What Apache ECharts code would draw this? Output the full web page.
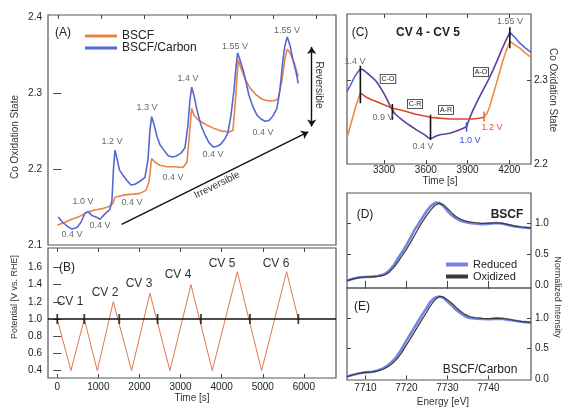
<!DOCTYPE html>
<html>
<head>
<meta charset="utf-8">
<script src="https://cdn.jsdelivr.net/npm/echarts@6/dist/echarts.min.js"></script>
<style>
  html, body { margin: 0; padding: 0; background: #fff; }
  #chart { width: 563px; height: 407px; }
</style>
</head>
<body>
<div id="chart"></div>
<script>
// ---- panel A: Co oxidation state vs time [s]
const aBscf = [[0,2.126],[187,2.130],[358,2.134],[552,2.138],[723,2.143],[917,2.146],[1112,2.148],[1282,2.151],[1355,2.155],[1404,2.163],[1477,2.164],[1647,2.166],[1842,2.167],[2012,2.168],[2158,2.172],[2231,2.183],[2297,2.214],[2380,2.209],[2499,2.205],[2669,2.203],[2864,2.203],[3058,2.202],[3156,2.209],[3204,2.238],[3270,2.280],[3326,2.271],[3423,2.265],[3545,2.261],[3667,2.257],[3837,2.253],[4007,2.250],[4178,2.249],[4275,2.251],[4336,2.291],[4404,2.344],[4470,2.333],[4567,2.319],[4689,2.307],[4835,2.298],[4981,2.292],[5127,2.290],[5273,2.290],[5370,2.292],[5467,2.317],[5540,2.346],[5596,2.358],[5662,2.353],[5759,2.341],[5864,2.322]];
const aCarbon = [[24,2.137],[114,2.131],[236,2.125],[358,2.121],[479,2.123],[577,2.130],[674,2.142],[747,2.144],[844,2.139],[942,2.137],[1039,2.134],[1161,2.141],[1282,2.147],[1331,2.159],[1367,2.199],[1404,2.225],[1453,2.214],[1513,2.199],[1599,2.192],[1696,2.185],[1793,2.179],[1891,2.180],[2012,2.184],[2134,2.189],[2207,2.212],[2255,2.251],[2297,2.269],[2353,2.259],[2426,2.243],[2499,2.232],[2596,2.225],[2693,2.218],[2791,2.216],[2888,2.217],[3010,2.221],[3107,2.228],[3180,2.258],[3229,2.291],[3270,2.308],[3326,2.297],[3399,2.278],[3496,2.258],[3594,2.245],[3691,2.235],[3796,2.229],[3886,2.230],[3983,2.233],[4080,2.240],[4153,2.248],[4227,2.271],[4300,2.304],[4350,2.335],[4389,2.353],[4445,2.344],[4526,2.330],[4591,2.315],[4665,2.297],[4762,2.282],[4859,2.271],[4956,2.266],[5053,2.263],[5151,2.264],[5248,2.270],[5345,2.280],[5418,2.304],[5491,2.344],[5540,2.363],[5596,2.374],[5662,2.363],[5735,2.344],[5808,2.328],[5864,2.313]];
const aVoltLabels = ['0.4 V','1.0 V','0.4 V','1.2 V','0.4 V','1.3 V','0.4 V','1.4 V','0.4 V','1.55 V','0.4 V','1.55 V'];
const aYTicks = [2.1, 2.2, 2.3, 2.4];
const aTopTicks = [24, 1080, 2117, 3163, 4202, 5255, 6311];

// ---- panel B: potential program
const bPotential = [[0,1.0],[333,0.4],[658,1.0],[974,0.4],[1363,1.2],[1809,0.4],[2255,1.3],[2742,0.4],[3253,1.4],[3772,0.4],[4380,1.55],[4972,0.4],[5581,1.55],[5865,1.0]];
const bCrossings = [0, 658, 1509, 2442, 3496, 4689, 5865];
const bCvLabels = ['CV 1','CV 2','CV 3','CV 4','CV 5','CV 6'];
const bXTicks = [0, 1000, 2000, 3000, 4000, 5000, 6000];
const bYTicks = [0.4, 0.6, 0.8, 1.0, 1.2, 1.4, 1.6];

// ---- panel C: CV 4 - CV 5 detail
const cCarbonPre = [[3034,2.287],[3060,2.295],[3090,2.305],[3115,2.311],[3130,2.314]];
const cCarbonCv = [[3130,2.314],[3150,2.313],[3173,2.310],[3200,2.306],[3221,2.303],[3245,2.299],[3269,2.293],[3295,2.286],[3317,2.279],[3340,2.271],[3360,2.265],[3380,2.260],[3401,2.257],[3430,2.253],[3461,2.249],[3497,2.245],[3533,2.241],[3563,2.238],[3593,2.235],[3615,2.232],[3634,2.230],[3655,2.232],[3680,2.234],[3701,2.235],[3740,2.236],[3773,2.237],[3810,2.239],[3844,2.241],[3870,2.243],[3893,2.245],[3915,2.255],[3940,2.265],[3975,2.277],[4012,2.289],[4050,2.301],[4084,2.313],[4115,2.325],[4145,2.337],[4175,2.348],[4204,2.358]];
const cCarbonPost = [[4204,2.358],[4240,2.352],[4276,2.345],[4310,2.340],[4356,2.334]];
const cBscfPre = [[3034,2.231],[3055,2.244],[3077,2.257],[3095,2.268],[3113,2.277],[3130,2.285]];
const cBscfCv = [[3130,2.285],[3150,2.283],[3173,2.280],[3210,2.277],[3245,2.275],[3300,2.271],[3360,2.267],[3410,2.265],[3461,2.263],[3520,2.260],[3581,2.258],[3634,2.256],[3701,2.255],[3770,2.254],[3844,2.254],[3900,2.254],[3940,2.254],[3980,2.255],[4019,2.256]];
const cBscfPost = [[4019,2.256],[4040,2.261],[4060,2.269],[4085,2.284],[4108,2.297],[4132,2.311],[4156,2.325],[4180,2.337],[4204,2.347],[4240,2.343],[4276,2.339],[4310,2.334],[4356,2.328]];
const cMarkTimes = [3130, 3360, 3634, 3893, 4019, 4204];
const cMarkLow = [2.273, 2.253, 2.229, 2.239, 2.251, 2.339];
const cMarkHigh = [2.318, 2.272, 2.259, 2.250, 2.263, 2.364];
const cXTicks = [3300, 3600, 3900, 4200];
const cYTicks = [2.2, 2.3];

// ---- panels D/E: XANES spectra
const dReduced = [[7705.5,0.07],[7707,0.10],[7708.6,0.125],[7710,0.13],[7711.8,0.135],[7713,0.145],[7714.3,0.165],[7715.2,0.2],[7716,0.25],[7717,0.33],[7718,0.44],[7719,0.54],[7720,0.65],[7721,0.77],[7722,0.9],[7723,1.0],[7724,1.11],[7725,1.21],[7726,1.29],[7727,1.34],[7728,1.34],[7729,1.29],[7730,1.21],[7731,1.14],[7732,1.09],[7733,1.055],[7734,1.03],[7735.4,1.01],[7737,1.0],[7738.5,0.99],[7740.3,1.0],[7742,1.01],[7743.5,1.0],[7745,0.975],[7746.5,0.955],[7748,0.94],[7750.4,0.925]];
const dOxidized = [[7705.5,0.07],[7707,0.10],[7708.6,0.12],[7710,0.13],[7711.8,0.133],[7713,0.14],[7714.3,0.155],[7715.2,0.18],[7716,0.22],[7717,0.29],[7718,0.38],[7719,0.48],[7720,0.58],[7721,0.69],[7722,0.81],[7723,0.93],[7724,1.04],[7725,1.14],[7726,1.23],[7727,1.30],[7728,1.33],[7729,1.31],[7730,1.25],[7731,1.18],[7732,1.12],[7733,1.08],[7734,1.05],[7735.4,1.03],[7737,1.015],[7738.5,1.005],[7740.3,1.01],[7742,1.015],[7743.5,1.005],[7745,0.985],[7746.5,0.96],[7748,0.945],[7750.4,0.93]];
const eReduced = [[7705.5,0.045],[7707,0.075],[7708.6,0.10],[7710,0.115],[7711.8,0.125],[7713,0.145],[7714.3,0.18],[7715.5,0.23],[7716.7,0.30],[7717.7,0.38],[7718.7,0.48],[7719.7,0.60],[7720.8,0.72],[7721.8,0.83],[7722.8,0.94],[7723.8,1.05],[7724.9,1.16],[7725.7,1.25],[7726.5,1.31],[7727.3,1.34],[7728.1,1.35],[7729,1.33],[7730,1.27],[7731,1.21],[7732,1.14],[7733.2,1.08],[7734.3,1.03],[7735.4,1.0],[7737,0.99],[7738.5,0.985],[7740.3,0.98],[7742,0.99],[7743.5,0.985],[7745,0.97],[7746.5,0.955],[7748,0.94],[7750.4,0.925]];
const eOxidized = [[7705.5,0.045],[7707,0.075],[7708.6,0.10],[7710,0.115],[7711.8,0.122],[7713,0.138],[7714.3,0.165],[7715.5,0.205],[7716.7,0.265],[7717.7,0.335],[7718.7,0.42],[7719.7,0.53],[7720.8,0.645],[7721.8,0.755],[7722.8,0.865],[7723.8,0.975],[7724.9,1.09],[7725.7,1.18],[7726.5,1.26],[7727.3,1.32],[7728.1,1.35],[7729,1.345],[7730,1.30],[7731,1.245],[7732,1.18],[7733.2,1.11],[7734.3,1.06],[7735.4,1.025],[7737,1.005],[7738.5,0.995],[7740.3,0.99],[7742,1.0],[7743.5,0.995],[7745,0.98],[7746.5,0.96],[7748,0.945],[7750.4,0.93]];
const energyTicks = [7710, 7720, 7730, 7740];
const intensityTicks = [0.0, 0.5, 1.0];

const FONT = '"Liberation Sans", Arial, sans-serif';
const chart = echarts.init(document.getElementById('chart'));

// one grid per panel
const grid = (left, top, width, height) => ({
  left, top, width, height, show: true,
  borderColor: '#555', borderWidth: 1.2, backgroundColor: 'transparent'
});

// axis helper: ticks inside, optional labels
function axis(kind, gridIndex, pos, min, max, ticks, labels, margin) {
  const a = {
    type: 'value', gridIndex, position: pos, min, max,
    splitLine: { show: false },
    axisLine: { show: false },
    axisTick: { show: true, inside: true, length: 4, customValues: ticks,
                lineStyle: { color: '#444', width: 1 } },
    axisLabel: { show: !!labels }
  };
  if (labels) {
    a.axisLabel = {
      show: true, customValues: labels, margin: margin,
      color: '#222', fontSize: 10, fontFamily: FONT,
      formatter: v => (kind === 'x' ? String(Math.round(v)) : v.toFixed(1))
    };
  }
  return a;
}

function line(name, data, color, width, xi, yi, extra) {
  return Object.assign({
    name, type: 'line', data, xAxisIndex: xi, yAxisIndex: yi,
    showSymbol: false, symbol: 'none', silent: true,
    lineStyle: { color, width }, itemStyle: { color }
  }, extra || {});
}

// text annotations
function txt(x, y, text, o) {
  o = o || {};
  return {
    type: 'text', x, y, rotation: o.rot || 0, z: 100,
    style: Object.assign({
      text, fill: o.color || '#222', fontSize: o.size || 10,
      fontFamily: FONT, fontWeight: o.bold ? 'bold' : 'normal',
      align: 'center', verticalAlign: 'middle'
    }, o.box ? { borderColor: '#222', borderWidth: 0.8, padding: [1, 1, 0, 1], backgroundColor: '#fff' } : {})
  };
}

const aLabelPos = [[72,235],[83,202],[100,226],[112,142],[132,203],[147,108],[173,178],[188,79],[213,155],[235,47],[263,133],[287,31]];
const bLabelPos = [[70,302],[105,293],[139,284],[178,275],[222,264],[276,264]];

const graphic = [];
aVoltLabels.forEach((t, i) => graphic.push(txt(aLabelPos[i][0], aLabelPos[i][1], t, { size: 9, color: '#6a6a6a' })));
bCvLabels.forEach((t, i) => graphic.push(txt(bLabelPos[i][0], bLabelPos[i][1], t, { size: 12, color: '#333' })));
graphic.push(
  txt(63, 33, '(A)', { size: 12 }),
  txt(15, 137, 'Co Oxidation State', { rot: Math.PI / 2, size: 10, color: '#333' }),
  txt(319, 85, 'Reversible', { rot: -Math.PI / 2, size: 10, color: '#333' }),
  txt(217, 185, 'Irreversible', { rot: 0.46, size: 10, color: '#333' }),
  txt(67, 268, '(B)', { size: 12 }),
  txt(15, 297, 'Potential [V vs. RHE]', { rot: Math.PI / 2, size: 9, color: '#333' }),
  txt(192, 398, 'Time [s]', { size: 10, color: '#333' }),
  txt(360, 33, '(C)', { size: 12 }),
  txt(428, 33, 'CV 4 - CV 5', { size: 12, bold: true }),
  txt(355, 62, '1.4 V', { size: 9, color: '#6a6a6a' }),
  txt(383, 118, '0.9 V', { size: 9, color: '#6a6a6a' }),
  txt(423, 147, '0.4 V', { size: 9, color: '#6a6a6a' }),
  txt(470, 141, '1.0 V', { size: 9, color: '#3a4fc8' }),
  txt(492, 128, '1.2 V', { size: 9, color: '#d9552c' }),
  txt(510, 22, '1.55 V', { size: 9, color: '#6a6a6a' }),
  txt(388, 79, 'C-O', { size: 7, box: true }),
  txt(415, 104, 'C-R', { size: 7, box: true }),
  txt(446, 110, 'A-R', { size: 7, box: true }),
  txt(481, 72, 'A-O', { size: 7, box: true }),
  txt(440, 181, 'Time [s]', { size: 10, color: '#333' }),
  txt(553, 90, 'Co Oxidation State', { rot: -Math.PI / 2, size: 10, color: '#333' }),
  txt(365, 215, '(D)', { size: 12 }),
  txt(507, 215, 'BSCF', { size: 12, bold: true }),
  txt(362, 307, '(E)', { size: 12 }),
  txt(480, 370, 'BSCF/Carbon', { size: 12, color: '#222' }),
  txt(443, 402, 'Energy [eV]', { size: 10, color: '#333' }),
  txt(557, 297, 'Normalized Intensity', { rot: -Math.PI / 2, size: 9, color: '#333' })
);

const cMarkColors = ['#111', '#111', '#111', '#3a4fc8', '#e0703a', '#111'];
const cMarks = cMarkTimes.map((t, i) => line('mark' + i, [[t, cMarkLow[i]], [t, cMarkHigh[i]]],
  cMarkColors[i], 1.6, 4, 4, { z: 5 }));

const option = {
  animation: false,
  backgroundColor: '#fff',
  grid: [
    grid(48, 15, 288, 230),
    grid(48, 248, 288, 130),
    grid(347, 14, 184, 150),
    grid(347, 193, 184, 95),
    grid(347, 288, 184, 92)
  ],
  xAxis: [
    axis('x', 0, 'bottom', -225, 6782, [], null),
    axis('x', 0, 'top', -225, 6782, aTopTicks, null),
    axis('x', 1, 'bottom', -225, 6782, bXTicks, bXTicks, 4),
    axis('x', 1, 'top', -225, 6782, bXTicks, null),
    axis('x', 2, 'bottom', 3034, 4356, cXTicks, cXTicks, 1),
    axis('x', 2, 'top', 3034, 4356, cXTicks, null),
    axis('x', 3, 'bottom', 7705.5, 7750.4, energyTicks, null),
    axis('x', 3, 'top', 7705.5, 7750.4, energyTicks, null),
    axis('x', 4, 'bottom', 7705.5, 7750.4, energyTicks, energyTicks, 3)
  ],
  yAxis: [
    axis('y', 0, 'left', 2.1, 2.403, [2.2, 2.3], aYTicks, 6),
    axis('y', 0, 'right', 2.1, 2.403, [2.2, 2.3], null),
    axis('y', 1, 'left', 0.314, 1.826, bYTicks, bYTicks, 6),
    axis('y', 1, 'right', 0.314, 1.826, bYTicks, null),
    axis('y', 2, 'right', 2.2, 2.38, [2.3], cYTicks, 3),
    axis('y', 2, 'left', 2.2, 2.38, [2.3], null),
    axis('y', 3, 'right', -0.05, 1.5, [0.5, 1.0], intensityTicks, 4),
    axis('y', 3, 'left', -0.05, 1.5, [0.5, 1.0], null),
    axis('y', 4, 'right', -0.01, 1.49, [0.5, 1.0], intensityTicks, 4),
    axis('y', 4, 'left', -0.01, 1.49, [0.5, 1.0], null)
  ],
  legend: [
    {
      data: ['BSCF', 'BSCF/Carbon'], left: 80, top: 25, orient: 'vertical',
      itemWidth: 32, itemHeight: 3, itemGap: 0, icon: 'rect',
      textStyle: { fontSize: 12, color: '#222', fontFamily: FONT }
    },
    {
      data: ['Reduced', 'Oxidized'], left: 441, top: 254, orient: 'vertical',
      itemWidth: 22, itemHeight: 4, itemGap: 1, icon: 'rect',
      textStyle: { fontSize: 11, color: '#222', fontFamily: FONT }
    }
  ],
  graphic,
  series: [
    line('BSCF', aBscf, '#ec8149', 1.6, 0, 0),
    line('BSCF/Carbon', aCarbon, '#5568d0', 1.6, 0, 0, {
      markLine: {
        silent: true, symbol: ['none', 'arrow'], symbolSize: 7,
        label: { show: false },
        lineStyle: { color: '#111', width: 1.4, type: 'solid' },
        data: [
          [{ coord: [1567, 2.1273] }, { coord: [6107, 2.249] }],
          [{ coord: [6190, 2.256], symbol: 'arrow' }, { coord: [6190, 2.361], symbol: 'arrow' }]
        ]
      }
    }),
    line('potential', bPotential, '#e0784a', 1, 2, 2, {
      markLine: {
        silent: true, symbol: 'none', label: { show: false },
        lineStyle: { color: '#111', width: 1.6, type: 'solid' },
        data: [{ yAxis: 1.0 }]
      }
    }),
    {
      name: 'crossings', type: 'scatter', xAxisIndex: 2, yAxisIndex: 2, silent: true,
      data: bCrossings.map(t => [t, 1.0]), symbol: 'rect', symbolSize: [1.8, 10],
      itemStyle: { color: '#111' }, z: 6
    },
    line('cCarbonPre', cCarbonPre, '#5566d8', 1.6, 4, 4),
    line('cCarbonCv', cCarbonCv, '#5b3f9e', 1.6, 4, 4),
    line('cCarbonPost', cCarbonPost, '#5566d8', 1.6, 4, 4),
    line('cBscfPre', cBscfPre, '#f08a4b', 1.6, 4, 4),
    line('cBscfCv', cBscfCv, '#d9482a', 1.6, 4, 4),
    line('cBscfPost', cBscfPost, '#f08a4b', 1.6, 4, 4),
    ...cMarks,
    line('Reduced', dReduced, '#7484e0', 2.6, 6, 6),
    line('Oxidized', dOxidized, '#3a3a3a', 1.2, 6, 6),
    line('Reduced', eReduced, '#7484e0', 2.6, 8, 8),
    line('Oxidized', eOxidized, '#3a3a3a', 1.2, 8, 8)
  ]
};

chart.setOption(option);
</script>
</body>
</html>
